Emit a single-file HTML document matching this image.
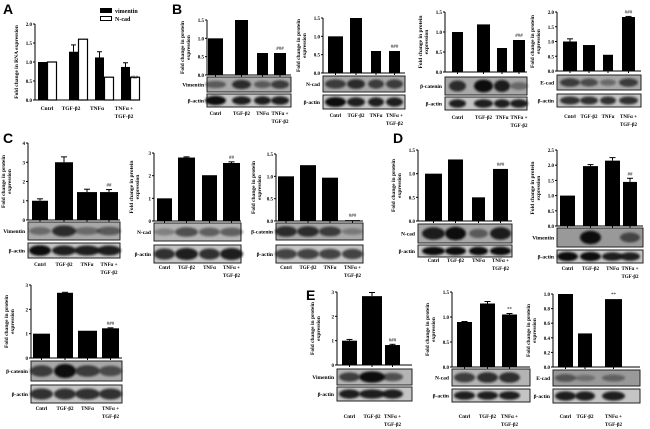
<!DOCTYPE html>
<html><head><meta charset="utf-8"><style>
html,body{margin:0;padding:0;background:#fff;}
svg{display:block;}
</style></head><body>
<svg id="s" width="650" height="429" xmlns="http://www.w3.org/2000/svg" font-family="Liberation Serif, serif"></svg>
<script>
var S=document.getElementById('s'),o='';
o+='<defs><filter id="b" x="-20%" y="-50%" width="140%" height="200%"><feGaussianBlur stdDeviation="1"/></filter></defs>';
function t(x,y,s,sz,anc,w,extra){o+='<text x="'+x+'" y="'+y+'" font-size="'+sz+'" text-anchor="'+(anc||'start')+'" font-weight="'+(w||'bold')+'" '+(extra||'')+'>'+s+'</text>';}
function r(x,y,w,h,f,st){o+='<rect x="'+x+'" y="'+y+'" width="'+w+'" height="'+h+'" fill="'+f+'"'+(st?' stroke="'+st+'" stroke-width="1"':'')+'/>';}
function l(x1,y1,x2,y2){o+='<line x1="'+x1+'" y1="'+y1+'" x2="'+x2+'" y2="'+y2+'" stroke="#000" stroke-width="1"/>';}
function panel(p){
 var ax=p.ax,top=p.top,base=p.base,max=p.max;
 l(ax,top,ax,base);l(ax,base,p.xe,base);
 var n=p.ticks.length;
 for(var i=0;i<n;i++){var y=base-(base-top)*i/(n-1);l(ax-2,y,ax,y);t(ax-3,y+2,p.ticks[i],5,'end');}
 var cs=[];
 p.bars.forEach(function(b,i){var h=(base-top)*b[2]/max;r(b[0],base-h,b[1]-b[0],h,'#000');cs.push((b[0]+b[1])/2);l(cs[i],base,cs[i],base+2);
  if(b[3]){var e=(base-top)*b[3]/max;l(cs[i],base-h-e,cs[i],base-h);l(cs[i]-3,base-h-e,cs[i]+3,base-h-e);}
 });
 if(p.sig){var b=p.bars[p.bars.length-1];var h=(base-top)*b[2]/max+(b[3]?(base-top)*b[3]/max:0);t(cs[cs.length-1],base-h-3,p.sig,5,'middle','normal');}
 var yl=p.ylx||ax-13, ym=(top+base)/2;
 o+='<text transform="translate('+yl+','+ym+') rotate(-90)" font-size="5.5" text-anchor="middle" font-weight="bold">'+'<tspan x="0" dy="-3">Fold change in protein</tspan><tspan x="0" dy="6">expression</tspan></text>';
 p.blots.forEach(function(bl){
  r(bl.x0||ax,bl.y,(bl.x1||p.bx1)-(bl.x0||ax),bl.h,bl.bg||'#a8a8a8','#222');
  cs.forEach(function(c,i){var bw=p.bars[i][1]-p.bars[i][0]+6;var a=bl.int[i];
   o+='<ellipse cx="'+c+'" cy="'+(bl.y+bl.h/2)+'" rx="'+(bw/2)+'" ry="'+(bl.h*0.22*(0.6+a))+'" fill="#111" opacity="'+Math.min(1,a)+'" filter="url(#b)"/>';});
  t((bl.x0||ax)-3,bl.y+bl.h/2+2,bl.lab,5.5,'end');
 });
 var cats=p.cats||['Cntrl','TGF-β2','TNFα','TNFα +'];
 cats.forEach(function(c,i){t(cs[i],p.ly,c,5,'middle');});
 t(cs[cs.length-1],p.ly+8,'TGF-β2',5,'middle');
}
[['A',3,14],['B',172,14],['C',3,143],['D',393,143],['E',306,300]].forEach(function(a){o+='<text x="'+a[1]+'" y="'+a[2]+'" font-family="Liberation Sans, sans-serif" font-size="14" font-weight="bold">'+a[0]+'</text>';});
(function(){var ax=35,top=24,base=100;l(ax,top,ax,base);l(ax,base,135,base);
 ['0.0','0.5','1.0','1.5','2.0'].forEach(function(s,i){var y=base-(base-top)*i/4;l(ax-2,y,ax,y);t(ax-3,y+2,s,5,'end');});
 var bk=[[30,1,0],[61,1.27,0.18],[87,1.12,0.15],[113,0.87,0.11]],wh=[1,1.6,0.6,0.6];
 bk.forEach(function(b,i){var x=b[0]+8,h=(base-top)*b[1]/2;r(x,base-h,9,h,'#000');if(b[2]){var e=(base-top)*b[2]/2;l(x+4.5,base-h-e,x+4.5,base-h);l(x+2,base-h-e,x+7,base-h-e);}
  var hw=(base-top)*wh[i]/2;o+='<rect x="'+(x+9.5)+'" y="'+(base-hw)+'" width="9" height="'+hw+'" fill="#fff" stroke="#000" stroke-width="1.2"/>';});
 t(125,71,'##',5,'middle','normal');t(134,79,'###',5,'middle','normal');
 o+='<text transform="translate(18,62) rotate(-90)" font-size="5.5" text-anchor="middle" font-weight="bold">Fold change in  RNA expression</text>';
 t(47,110,'Cntrl',5.5,'middle');t(71,110,'TGF-β2',5.5,'middle');t(97,110,'TNFα',5.5,'middle');t(124,110,'TNFα +',5.5,'middle');t(124,118,'TGF-β2',5.5,'middle');
 r(100,8,12,5,'#000');t(115,13,'vimentin',6,'start');o+='<rect x="100.5" y="16.5" width="11" height="4" fill="#fff" stroke="#000"/>';t(115,21,'N-cad',6,'start');
})();
var T15=['0.0','0.5','1.0','1.5'],T20=['0.0','0.5','1.0','1.5','2.0'];
panel({ax:207,top:20,base:75,max:1.5,xe:291,bx1:291,ticks:T15,bars:[[208,223,1],[235,248,1.5],[257,268,0.6],[274,286,0.6]],sig:'###',ylx:187,
 blots:[{y:77,h:15,lab:'Vimentin',int:[0.5,0.8,0.5,0.7]},{y:94,h:13,lab:'β-actin',bg:'#c4c4c4',int:[1,0.9,0.9,0.9]}],ly:115});
panel({ax:323,top:18,base:73,max:1.5,xe:405,bx1:405,ticks:T15,bars:[[328,343,1],[350,362,1.5],[371,381,0.6],[389,400,0.6]],sig:'###',ylx:303,
 blots:[{y:76,h:16,lab:'N-cad',int:[0.7,0.8,0.7,0.7]},{y:95,h:14,lab:'β-actin',bg:'#c4c4c4',int:[1,0.9,0.9,0.9]}],ly:117});
panel({ax:445,top:12,base:72,max:1.5,xe:527,bx1:527,ticks:T15,bars:[[452,463,1],[477,490,1.19],[497,507,0.6],[513,525,0.8]],sig:'###',ylx:425,
 blots:[{y:77,h:18,lab:'β-catenin',int:[0.8,1,0.9,0.4]},{y:97,h:13,lab:'β-actin',bg:'#c4c4c4',int:[0.9,0.9,0.9,0.9]}],ly:119});
panel({ax:557,top:12,base:71,max:2,xe:641,bx1:641,ticks:T20,bars:[[563,577,1,0.09],[583,595,0.88],[603,613,0.55],[622,635,1.83,0.02]],sig:'###',ylx:537,
 blots:[{y:75,h:15,lab:'E-cad',int:[0.7,0.6,0.4,0.7]},{y:94,h:13,lab:'β-actin',bg:'#c4c4c4',int:[0.8,0.8,0.8,0.8]}],ly:118});
panel({ax:28,top:143,base:220,max:4,xe:120,bx1:120,ticks:['0','1','2','3','4'],bars:[[32,48,1,0.1],[55,73,3,0.28],[77,97,1.45,0.15],[100,118,1.45,0.13]],sig:'##',ylx:8,
 blots:[{y:222,h:18,lab:'Vimentin',int:[0.4,0.8,0.4,0.5]},{y:243,h:15,lab:'β-actin',bg:'#c4c4c4',int:[1,0.9,0.9,0.9]}],ly:266});
panel({ax:154,top:153,base:221,max:3,xe:241,bx1:241,ticks:['0','1','2','3'],bars:[[157,172,1],[178,195,2.8,0.03],[202,217,2.02],[223,240,2.56,0.05]],sig:'##',ylx:136,
 blots:[{y:223,h:18,lab:'N-cad',bg:'#b4b4b4',int:[0.3,0.6,0.5,0.5]},{y:245,h:18,lab:'β-actin',bg:'#c4c4c4',int:[0.8,0.9,0.8,0.9]}],ly:269});
panel({ax:276,top:154,base:221,max:1.5,xe:363,bx1:363,ticks:T15,bars:[[278,294,1],[300,316,1.25],[322,338,0.97],[345,360,0.02]],sig:'###',ylx:258,
 blots:[{y:223,h:17,lab:'β-catenin',int:[0.8,0.8,0.7,0.3]},{y:245,h:18,lab:'β-actin',bg:'#c4c4c4',int:[0.7,0.7,0.7,0.7]}],ly:269});
panel({ax:418,top:150,base:221,max:1.5,xe:512,bx1:512,ticks:T15,bars:[[425,442,1],[448,463,1.3],[472,485,0.5],[493,508,1.1]],sig:'###',ylx:398,
 blots:[{y:224,h:19,lab:'N-cad',int:[0.9,1,0.5,0.9]},{y:245,h:12,lab:'β-actin',bg:'#c4c4c4',int:[1,1,1,1]}],ly:262});
panel({ax:557,top:150,base:226,max:2.5,xe:643,bx1:643,ticks:['0.0','0.5','1.0','1.5','2.0','2.5'],bars:[[560,575,1],[583,598,1.97,0.05],[605,620,2.15,0.1],[623,637,1.45,0.12]],sig:'##',ylx:537,
 blots:[{y:228,h:19,lab:'Vimentin',bg:'#999',int:[0,1,0,0.6]},{y:250,h:13,lab:'β-actin',bg:'#c4c4c4',int:[1,1,0.9,0.9]}],ly:270});
panel({ax:31,top:285,base:358,max:3,xe:122,bx1:122,ticks:['0','1','2','3'],bars:[[33,50,1],[57,73,2.68,0.02],[78,97,1.12],[102,119,1.22,0.02]],sig:'###',ylx:11,
 blots:[{y:361,h:20,lab:'β-catenin',int:[0.7,1,0.7,0.6]},{y:385,h:18,lab:'β-actin',bg:'#c4c4c4',int:[0.8,0.8,0.8,0.8]}],ly:410});
var C3=['Cntrl','TGF-β2','TNFα +'];
panel({ax:337,top:292,base:365,max:3,xe:412,bx1:412,ticks:['0','1','2','3'],cats:C3,bars:[[342,357,1,0.05],[362,382,2.83,0.15],[385,400,0.82,0.03]],sig:'###',ylx:317,
 blots:[{y:369,h:16,lab:'Vimentin',bg:'#b4b4b4',int:[0.7,1,0.6]},{y:387,h:14,lab:'β-actin',bg:'#c4c4c4',int:[0.9,0.9,0.9]}],ly:418});
panel({ax:452,top:292,base:367,max:1.5,xe:530,bx1:530,ticks:T15,cats:C3,bars:[[457,472,0.9,0.01],[480,495,1.27,0.04],[502,517,1.05,0.02]],sig:'**',ylx:432,
 blots:[{y:369,h:17,lab:'N-cad',bg:'#b4b4b4',int:[0.7,0.8,0.8]},{y:389,h:13,lab:'β-actin',bg:'#c4c4c4',int:[0.9,0.9,0.9]}],ly:418});
panel({ax:553,top:294,base:367,max:1,xe:640,bx1:640,ticks:['0.0','0.2','0.4','0.6','0.8','1.0'],cats:C3,bars:[[558,573,1],[578,592,0.46],[605,622,0.93]],sig:'**',ylx:533,
 blots:[{y:370,h:16,lab:'E-cad',bg:'#999',int:[0.5,0.3,0.4]},{y:389,h:14,lab:'β-actin',bg:'#c4c4c4',int:[0.9,0.9,0.9]}],ly:418});
S.innerHTML=o;
</script>
</body></html>
